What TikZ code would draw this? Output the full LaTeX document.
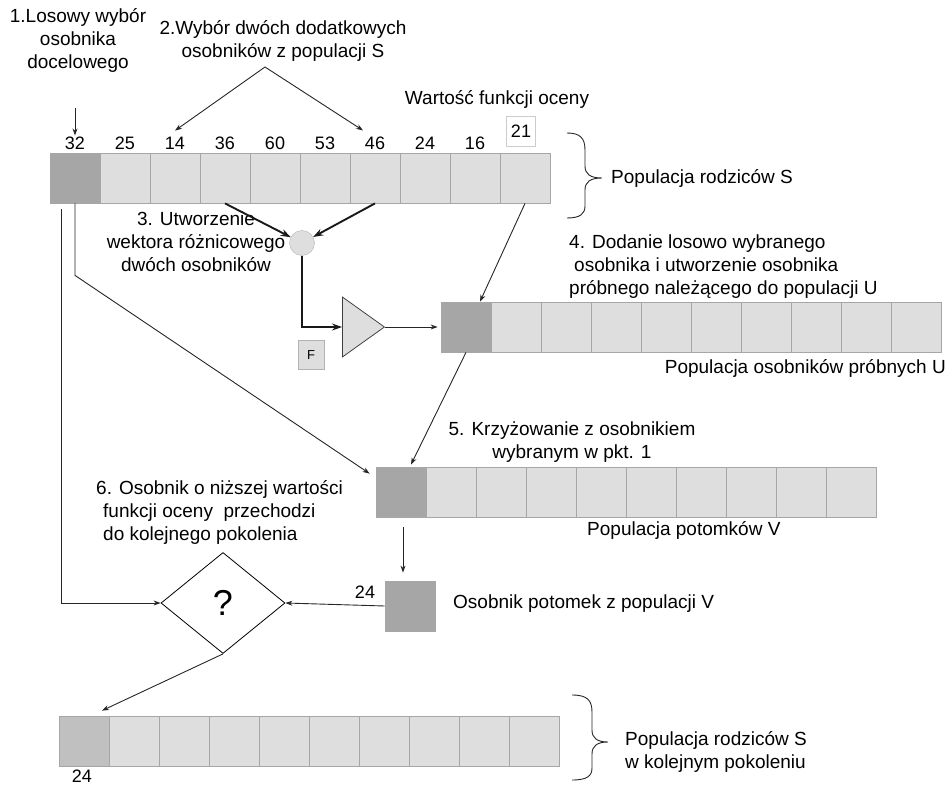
\documentclass[tikz,border=0pt]{standalone}
\usepackage{fontspec}
\setmainfont{Liberation Sans}
\usetikzlibrary{shapes.geometric, arrows.meta}
\definecolor{cellfill}{HTML}{DEDEDE}
\definecolor{celldark}{HTML}{A6A6A6}
\definecolor{cellmid}{HTML}{C0C0C0}
\tikzset{
    cell_light/.style={
        rectangle, draw=black!35, fill=cellfill, line width=0.8pt,
        minimum width=50pt, minimum height=50pt, inner sep=0pt
    },
    cell_dark/.style={
        cell_light, fill=celldark
    },
    cell_mid/.style={
        cell_light, fill=cellmid
    },
    lbl/.style={
        font=\fontsize{19}{23}\selectfont, inner sep=1pt
    },
    num_lbl/.style={
        font=\fontsize{18}{22}\selectfont, inner sep=1pt
    },
    thin_arrow/.style={
        -{Stealth[length=7pt, width=5pt]}, draw=black!85, line width=0.9pt
    },
    thick_arrow/.style={
        -{Stealth[length=10pt, width=7pt]}, draw=black!90, line width=1.9pt
    },
    thin_line/.style={
        draw=black!85, line width=0.9pt
    }
}

\begin{document}
\begin{tikzpicture}[x=1pt, y=-1pt, >=Stealth]
    \useasboundingbox (0,0) rectangle (951,787);

    % populacja S
    \node[cell_dark] (s1) at (75,178) {};
    \foreach \i in {2,...,10}
        \node[cell_light] (s\i) at ({25+50*\i},178) {};
    \foreach \v [count=\i] in {32,25,14,36,60,53,46,24,16}
        \node[num_lbl] (w\i) at ({25+50*\i},143) {\v};
    \node[num_lbl, draw=black!20, minimum width=29pt, minimum height=30pt] (w10) at (521,131) {21};

    % populacja U
    \node[cell_dark] (u1) at (466,327) {};
    \foreach \i in {2,...,10}
        \node[cell_light] (u\i) at ({416+50*\i},327) {};

    % populacja V
    \node[cell_dark] (v1) at (401,492) {};
    \foreach \i in {2,...,10}
        \node[cell_light] (v\i) at ({351+50*\i},492) {};

    % kolejne pokolenie
    \node[cell_mid] (n1) at (84,741) {};
    \foreach \i in {2,...,10}
        \node[cell_light] (n\i) at ({34+50*\i},741) {};

    \node[cell_dark] (o) at (410,606) {};
    \node[circle, draw=black!30, fill=cellfill, minimum size=25pt, inner sep=0pt] (c) at (302,243) {};
    \node[isosceles triangle, isosceles triangle stretches, draw=black!75, fill=cellfill,
          line width=0.8pt, minimum width=60pt, minimum height=42pt, inner sep=0pt,
          anchor=lower side] (t) at (342,327) {};
    \node[rectangle, draw=black!30, fill=cellfill, minimum width=26pt, minimum height=29pt,
          inner sep=0pt, font=\fontsize{13}{13}\selectfont] (f) at (311,355) {F};
    \node[diamond, draw=black, fill=white, line width=0.8pt, minimum width=124pt,
          minimum height=101pt, inner sep=0pt, font=\fontsize{36}{36}\selectfont] (d) at (223,603) {?};

    \node[lbl, align=center] (lab1) at (78,40) {1.Losowy wybór\\osobnika\\docelowego};
    \node[lbl, align=center] (lab2) at (283,41) {2.Wybór dwóch dodatkowych\\osobników z populacji S};
    \node[lbl] (labf) at (497,99) {Wartość funkcji oceny};
    \node[lbl, anchor=west] (labS) at (610,178) {Populacja rodziców S};
    \node[lbl, align=center] (lab3) at (196,242) {3. Utworzenie\\wektora różnicowego\\dwóch osobników};
    \node[lbl, align=left, anchor=west] (lab4) at (568,267) {4. Dodanie losowo wybranego\\\hspace{5pt}osobnika i utworzenie osobnika\\próbnego należącego do populacji U};
    \node[lbl, anchor=east] (labU) at (947,368) {Populacja osobników próbnych U};
    \node[lbl, align=center] (lab5) at (572,442) {5. Krzyżowanie z osobnikiem\\wybranym w pkt. 1};
    \node[lbl, anchor=west] (labV) at (586,530) {Populacja potomków V};
    \node[lbl, align=left, anchor=west] (lab6) at (95,512) {6. Osobnik o niższej wartości\\\hspace{7pt}funkcji oceny\ \ przechodzi\\\hspace{7pt}do kolejnego pokolenia};
    \node[lbl, anchor=west] (labO) at (452,604) {Osobnik potomek z populacji V};
    \node[num_lbl] (o24) at (365,592) {24};
    \node[num_lbl, inner sep=0pt] (n24) at (82,776) {24};
    \node[lbl, align=left, anchor=west] (labN) at (624,752) {Populacja rodziców S\\w kolejnym pokoleniu};

    \coordinate (p1) at (75,108);
    \coordinate (p2) at (265,67);

    \draw[thin_arrow] (p1) -- (w1.north);
    \draw[thin_arrow] (p2) -- ([yshift=5pt]w3.north);
    \draw[thin_arrow] (p2) -- ([shift={(-12pt,5pt)}]w7.north);
    \draw[thick_arrow] (s4.south) -- (c);
    \draw[thick_arrow] (s7.south) -- (c);
    \draw[thick_arrow] (c) |- (t.lower side);
    \draw[thin_arrow, shorten >=3pt] (t.apex) -- (u1.west);
    \draw[thin_arrow] (s10.south) -- ([xshift=14pt]u1.north);
    \draw[thin_arrow] (u1.south) -- ([shift={(10pt,2pt)}]v1.north);
    \draw[thin_arrow, shorten <=10pt, shorten >=8pt] ([xshift=2pt]v1.south) -- ([xshift=2pt]v1.south |- o.north);
    \draw[thin_arrow] (o.west) -- (d.east);
    \draw[thin_arrow, shorten <=6pt] ([xshift=-14pt]s1.south) |- (d.west);
    \draw[thin_arrow] (s1.south) -- ++(0,72) -- ([shift={(-6pt,-7pt)}]v1.north west);
    \draw[thin_arrow] (d.south) -- ([shift={(18pt,5pt)}]n1.north);

    % klamry
    \draw[thin_line] (567,133) .. controls (580,133) and (585,138) .. (585,150) -- (585,166)
        .. controls (585,174) and (590,178) .. (602,178)
        .. controls (590,178) and (585,182) .. (585,190) -- (585,206)
        .. controls (585,214) and (580,218) .. (567,218);
    \draw[thin_line] (572,695) .. controls (587,695) and (592,700) .. (592,712) -- (592,730)
        .. controls (592,738) and (597,742) .. (608,742)
        .. controls (597,742) and (592,746) .. (592,754) -- (592,768)
        .. controls (592,776) and (587,780) .. (572,780);

\end{tikzpicture}
\end{document}
